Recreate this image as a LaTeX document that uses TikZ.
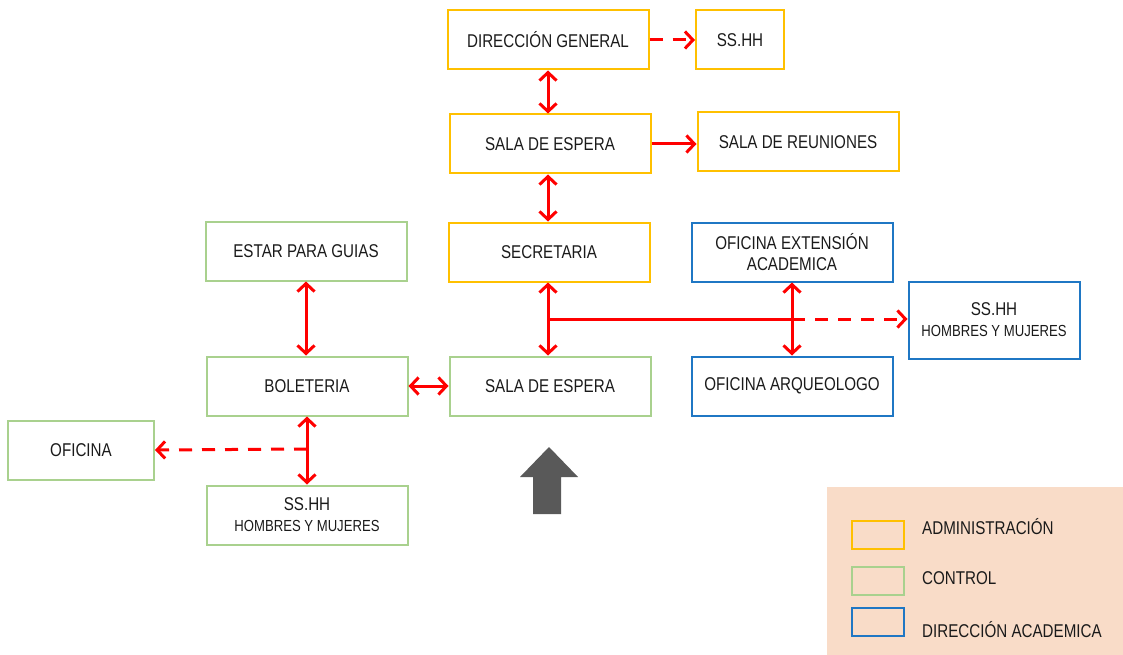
\documentclass[tikz,border=0pt]{standalone}
\usepackage{fontspec}
\setmainfont[FakeStretch=0.82]{Liberation Sans}
\usetikzlibrary{arrows.meta}
\definecolor{adm}{HTML}{FFC000}
\definecolor{ctl}{HTML}{A9D18E}
\definecolor{acad}{HTML}{1F77C4}
\definecolor{rd}{HTML}{FF0000}
\definecolor{peach}{HTML}{F9DCC8}
\definecolor{dgray}{HTML}{595959}
\definecolor{txt}{HTML}{1A1A1A}
\tikzset{
  box/.style={draw, line width=2pt, inner sep=0pt, minimum width=201pt, minimum height=59pt, align=center, font=\fontsize{18.5}{21}\selectfont, text=txt},
  admbox/.style={box, draw=adm},
  ctlbox/.style={box, draw=ctl},
  acadbox/.style={box, draw=acad},
  conn/.style={draw=rd, line width=3pt, -{Straight Barb[length=8pt,width=17pt]}},
  dconn/.style={conn, {Straight Barb[length=8pt,width=17pt]}-{Straight Barb[length=8pt,width=17pt]}},
  dsh/.style={dash pattern=on 13pt off 10pt},
  legtext/.style={anchor=west, inner sep=0pt, font=\fontsize{18.5}{21}\selectfont, text=txt},
  legbox/.style={line width=2.5pt, minimum width=52pt, minimum height=28pt, inner sep=0pt}
}
\newcommand{\smalltxt}{\fontsize{16}{18}\selectfont}
\begin{document}
\begin{tikzpicture}[x=1pt,y=-1pt]
\useasboundingbox (0,0) rectangle (1123,655);
% nodes
\node[admbox] (dg) at (548,40) {DIRECCIÓN GENERAL};
\node[admbox, minimum width=88pt] (ssh1) at (740,40) {SS.HH};
\node[admbox] (se1) at (550,144) {SALA DE ESPERA};
\node[admbox] (sr) at (798,142) {SALA DE REUNIONES};
\node[admbox] (sec) at (549,252) {SECRETARIA};
\node[acadbox] (oext) at (792,252) {OFICINA EXTENSIÓN\\ACADEMICA};
\node[acadbox, minimum width=171pt, minimum height=77pt] (ssh2) at (994,320) {SS.HH\\{\smalltxt HOMBRES Y MUJERES}};
\node[ctlbox] (eg) at (306,251) {ESTAR PARA GUIAS};
\node[ctlbox] (bol) at (307,386) {BOLETERIA};
\node[ctlbox] (se2) at (550,386) {SALA DE ESPERA};
\node[acadbox] (oarq) at (792,386) {OFICINA ARQUEOLOGO};
\node[ctlbox, minimum width=146pt] (ofi) at (81,450) {OFICINA};
\node[ctlbox] (ssh3) at (307,515) {SS.HH\\{\smalltxt HOMBRES Y MUJERES}};
% connectors
\draw[dconn] (dg.south) -- (dg.south |- se1.north);
\draw[conn, dsh] (dg.east) -- (ssh1.west);
\draw[conn] (se1.east) -- (se1.east -| sr.west);
\draw[dconn] (se1.south -| dg.south) -- (sec.north -| dg.south);
\draw[dconn] (sec.south -| dg.south) -- (se2.north -| dg.south);
\coordinate (j1) at (548,319);
\coordinate (j2) at (792,319);
\draw[draw=rd, line width=3pt] (j1) -- (j2);
\draw[conn, dsh] (j2) -- (j2 -| ssh2.west);
\draw[dconn] (oext.south) -- (oarq.north);
\draw[dconn] (eg.south) -- (eg.south |- bol.north);
\draw[dconn] (bol.east) -- (se2.west);
\draw[dconn] (bol.south) -- (ssh3.north);
\coordinate (j3) at (307,449);
\draw[conn, dsh] (j3) -- (ofi.east);
% big gray arrow
\fill[dgray] (520,477) -- (549,447) -- (578,477) -- (561,477) -- (561,514) -- (533,514) -- (533,477) -- cycle;
% legend
\node[fill=peach, inner sep=0pt, minimum width=296pt, minimum height=168pt] (leg) at (975,571) {};
\node[legbox, draw=adm] (l1) at (878,535) {};
\node[legbox, draw=ctl] (l2) at (878,581) {};
\node[legbox, draw=acad] (l3) at (878,622) {};
\node[legtext] (t1) at (922,527) {ADMINISTRACIÓN};
\node[legtext] (t2) at (922,578) {CONTROL};
\node[legtext] (t3) at (922,630) {DIRECCIÓN ACADEMICA};
\end{tikzpicture}
\end{document}
